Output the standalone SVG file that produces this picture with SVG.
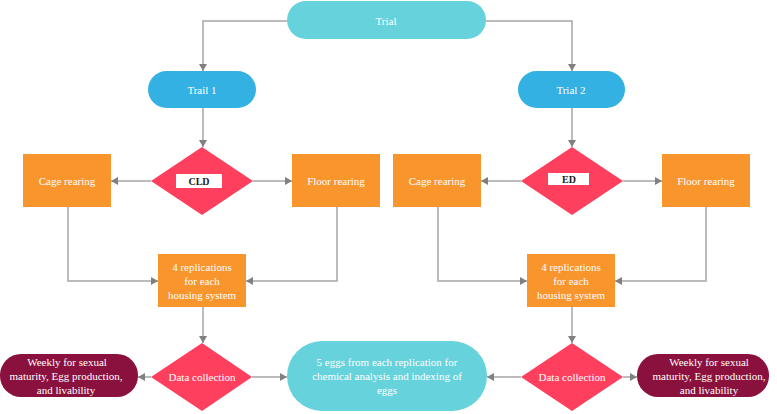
<svg xmlns="http://www.w3.org/2000/svg" width="777" height="414" viewBox="0 0 777 414" font-family="'Liberation Serif','Times New Roman',serif">
<style>
text{font-family:"Liberation Serif","Times New Roman",serif;font-size:11px;fill:#fff;text-anchor:middle;}
.lbl{font-weight:bold;fill:#222;font-size:10px;}
.teal{fill:#66D2DB;}
.blue{fill:#33B1E3;}
.org{fill:#F8952D;}
.red{fill:#FE3F5E;}
.mar{fill:#8A103D;}
.c{fill:none;stroke:#a6a6a6;stroke-width:1.5;}
</style>
<defs>
<marker id="ah" markerWidth="8" markerHeight="8" refX="7" refY="4" orient="auto" markerUnits="userSpaceOnUse">
<path d="M0,0 L7,4 L0,8 Z" fill="#808080"/>
</marker>
</defs>
<rect width="777" height="414" fill="#fff"/>
<g id="connectors">
<path class="c" d="M287,21 H203 V71" marker-end="url(#ah)"/>
<path class="c" d="M486,21 H572 V71" marker-end="url(#ah)"/>
<path class="c" d="M203,108 V147" marker-end="url(#ah)"/>
<path class="c" d="M572,108 V147" marker-end="url(#ah)"/>
<path class="c" d="M151,181 H111" marker-end="url(#ah)"/>
<path class="c" d="M253,181 H292" marker-end="url(#ah)"/>
<path class="c" d="M521,181 H481" marker-end="url(#ah)"/>
<path class="c" d="M623,181 H662" marker-end="url(#ah)"/>
<path class="c" d="M68,207 V281 H158" marker-end="url(#ah)"/>
<path class="c" d="M337,207 V281 H246" marker-end="url(#ah)"/>
<path class="c" d="M438,207 V281 H527" marker-end="url(#ah)"/>
<path class="c" d="M706,207 V281 H615" marker-end="url(#ah)"/>
<path class="c" d="M203,307 V343" marker-end="url(#ah)"/>
<path class="c" d="M572,307 V343" marker-end="url(#ah)"/>
<path class="c" d="M151,377 H138" marker-end="url(#ah)"/>
<path class="c" d="M252,377 H287" marker-end="url(#ah)"/>
<path class="c" d="M521,377 H487" marker-end="url(#ah)"/>
<path class="c" d="M623,377 H637" marker-end="url(#ah)"/>
</g>
<g id="trial"><rect class="teal" x="287" y="1" width="199" height="38" rx="19"/><text x="386" y="25">Trial</text></g>
<g id="trail1"><rect class="blue" x="148" y="71" width="108" height="37" rx="18.5"/><text x="202" y="94">Trail 1</text></g>
<g id="trial2"><rect class="blue" x="518" y="71" width="107" height="37" rx="18.5"/><text x="571" y="94">Trial 2</text></g>
<g id="cld"><path class="red" d="M202,147 L253,181 L202,215 L151,181 Z"/><rect x="176" y="174" width="46" height="14" fill="#fff"/><text class="lbl" x="199" y="185">CLD</text></g>
<g id="ed"><path class="red" d="M572,147 L623,181 L572,215 L521,181 Z"/><rect x="548" y="173" width="41" height="12" fill="#fff"/><text class="lbl" x="569" y="183">ED</text></g>
<g id="cage1"><rect class="org" x="23" y="154" width="88" height="53"/><text x="67" y="185">Cage rearing</text></g>
<g id="floor1"><rect class="org" x="292" y="154" width="88" height="53"/><text x="336" y="185">Floor rearing</text></g>
<g id="cage2"><rect class="org" x="393" y="154" width="88" height="53"/><text x="437" y="185">Cage rearing</text></g>
<g id="floor2"><rect class="org" x="662" y="154" width="88" height="53"/><text x="706" y="185">Floor rearing</text></g>
<g id="rep1"><rect class="org" x="158" y="254" width="88" height="53"/><text x="202" y="271">4 replications</text><text x="202" y="285">for each</text><text x="202" y="299">housing system</text></g>
<g id="rep2"><rect class="org" x="527" y="254" width="88" height="53"/><text x="571" y="271">4 replications</text><text x="571" y="285">for each</text><text x="571" y="299">housing system</text></g>
<g id="dc1"><path class="red" d="M202,343 L252,377 L202,411 L151,377 Z"/><text x="202" y="381">Data collection</text></g>
<g id="dc2"><path class="red" d="M572,343 L623,377 L572,411 L521,377 Z"/><text x="572" y="381">Data collection</text></g>
<g id="weekly1"><rect class="mar" x="0" y="354" width="138" height="43" rx="21"/><text x="67" y="366">Weekly for sexual</text><text x="66" y="380">maturity, Egg production,</text><text x="66" y="394">and livability</text></g>
<g id="eggs"><rect class="teal" x="287" y="341" width="200" height="70" rx="35"/><text x="387" y="366">5 eggs from each replication for</text><text x="387" y="380">chemical analysis and indexing of</text><text x="387" y="394">eggs</text></g>
<g id="weekly2"><rect class="mar" x="637" y="354" width="132" height="43" rx="21"/><text x="709" y="366">Weekly for sexual</text><text x="709" y="380">maturity, Egg production,</text><text x="709" y="394">and livability</text></g>
</svg>
